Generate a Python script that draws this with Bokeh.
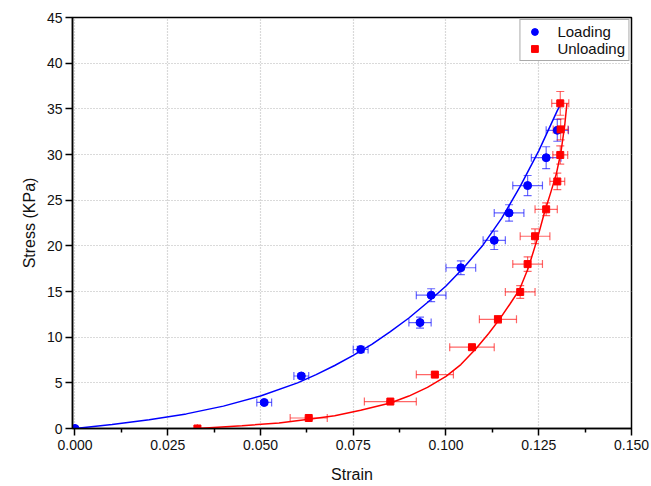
import numpy as np
from bokeh.plotting import figure
from bokeh.models import (ColumnDataSource, Whisker, TeeHead, FixedTicker,
                          NumeralTickFormatter, Range1d, Legend, LegendItem)
from bokeh.embed import file_html
from bokeh.resources import INLINE

# ---- data ----
load_strain = [0.000, 0.051, 0.061, 0.077, 0.093, 0.096, 0.104, 0.113, 0.117, 0.122, 0.127, 0.130]
load_stress = [0.0, 2.85, 5.75, 8.65, 11.6, 14.6, 17.6, 20.6, 23.6, 26.6, 29.65, 32.65]
load_xerr = [0.0, 0.002, 0.002, 0.002, 0.003, 0.004, 0.004, 0.003, 0.004, 0.004, 0.004, 0.003]
load_yerr = [0.0, 0.2, 0.25, 0.35, 0.6, 0.7, 0.75, 1.0, 0.9, 1.1, 1.2, 1.2]

unload_strain = [0.033, 0.063, 0.085, 0.097, 0.107, 0.114, 0.120, 0.122, 0.124, 0.127, 0.130, 0.1308, 0.1309, 0.1308]
unload_stress = [0.0, 1.15, 2.95, 5.9, 8.9, 11.95, 14.95, 18.0, 21.05, 24.0, 27.05, 29.95, 32.75, 35.6]
unload_xerr = [0.0, 0.005, 0.007, 0.005, 0.006, 0.005, 0.004, 0.004, 0.004, 0.003, 0.002, 0.002, 0.002, 0.0023]
unload_yerr = [0.0, 0.1, 0.1, 0.15, 0.25, 0.4, 0.7, 0.8, 0.8, 0.7, 0.9, 1.0, 1.15, 1.3]

# fitted curves, points
load_fit_x = [0.000, 0.010, 0.020, 0.030, 0.040, 0.050, 0.060, 0.065, 0.070, 0.075, 0.080, 0.085, 0.090, 0.095, 0.100, 0.105, 0.110, 0.115, 0.120, 0.125, 0.130, 0.131]
load_fit_y = [0.0, 0.45, 0.95, 1.6, 2.45, 3.55, 5.0, 5.9, 6.9, 8.0, 9.2, 10.6, 12.1, 13.8, 15.6, 17.7, 20.1, 23.0, 26.5, 30.4, 34.8, 35.6]

unload_fit_x = [0.033, 0.045, 0.055, 0.063, 0.070, 0.077, 0.085, 0.090, 0.095, 0.100, 0.104, 0.108, 0.1115, 0.1145, 0.1172, 0.1198, 0.1222, 0.1245, 0.1265, 0.1282, 0.1297, 0.131, 0.132, 0.1326]
unload_fit_y = [0.0, 0.3, 0.6, 1.0, 1.4, 2.0, 2.8, 3.55, 4.5, 5.7, 7.0, 8.7, 10.4, 12.0, 13.6, 15.2, 17.6, 20.6, 23.6, 25.8, 27.8, 30.3, 33.2, 35.6]

x_ticks = [0.000, 0.025, 0.050, 0.075, 0.100, 0.125, 0.150]
y_ticks = [0, 5, 10, 15, 20, 25, 30, 35, 40, 45]

BLUE = "#0000FF"
RED = "#FF0000"
FONT = "Liberation Sans"

p = figure(width=651, height=486, output_backend="svg", toolbar_location=None,
           x_range=Range1d(-0.00067, 0.150), y_range=Range1d(0, 45),
           min_border_left=72, min_border_right=20, min_border_top=17, min_border_bottom=58)
p.background_fill_color = "white"
p.border_fill_color = "white"
p.outline_line_color = "black"
p.outline_line_width = 1.5

# grid
for g in (p.xgrid, p.ygrid):
    g.grid_line_color = "#b4b4b4"
    g.grid_line_dash = "1 2"
    g.grid_line_width = 1.2
p.xgrid.ticker = FixedTicker(ticks=x_ticks)
p.ygrid.ticker = FixedTicker(ticks=y_ticks)

# axes
minor_x = [x_ticks[i] + 0.0125 for i in range(len(x_ticks) - 1)]
p.xaxis.ticker = FixedTicker(ticks=x_ticks, minor_ticks=minor_x)
p.yaxis.ticker = FixedTicker(ticks=y_ticks)
p.xaxis.formatter = NumeralTickFormatter(format="0.000")
p.xaxis.axis_label = "Strain"
p.yaxis.axis_label = "Stress (KPa)"
for ax in (p.xaxis, p.yaxis):
    ax.axis_line_color = "black"
    ax.axis_line_width = 1.5
    ax.major_tick_line_color = "black"
    ax.major_tick_line_width = 1.5
    ax.major_tick_out = 7
    ax.major_tick_in = 0
    ax.minor_tick_line_color = "black"
    ax.minor_tick_line_width = 1.5
    ax.minor_tick_out = 4
    ax.minor_tick_in = 0
    ax.major_label_text_font = FONT
    ax.major_label_text_font_size = "14px"
    ax.major_label_text_color = "#111111"
    ax.axis_label_text_font = FONT
    ax.axis_label_text_font_size = "16px"
    ax.axis_label_text_font_style = "normal"
    ax.axis_label_text_color = "#111111"
p.yaxis.minor_tick_line_color = None
p.xaxis.major_label_standoff = 4
p.yaxis.major_label_standoff = 3
p.xaxis.axis_label_standoff = 13
p.yaxis.axis_label_standoff = 6

# sources
ls = ColumnDataSource(dict(
    x=load_strain, y=load_stress,
    xl=np.array(load_strain) - np.array(load_xerr), xu=np.array(load_strain) + np.array(load_xerr),
    yl=np.array(load_stress) - np.array(load_yerr), yu=np.array(load_stress) + np.array(load_yerr)))
us = ColumnDataSource(dict(
    x=unload_strain, y=unload_stress,
    xl=np.array(unload_strain) - np.array(unload_xerr), xu=np.array(unload_strain) + np.array(unload_xerr),
    yl=np.array(unload_stress) - np.array(unload_yerr), yu=np.array(unload_stress) + np.array(unload_yerr)))

# fitted lines
p.line(load_fit_x, load_fit_y, line_color=BLUE, line_width=1.5)
p.line(unload_fit_x, unload_fit_y, line_color=RED, line_width=1.5)

# error bars
for src, col in ((ls, BLUE), (us, RED)):
    wy = Whisker(source=src, base="x", upper="yu", lower="yl", dimension="height",
                 line_color=col, line_alpha=0.6, line_width=1.2,
                 upper_head=TeeHead(size=8, line_color=col, line_alpha=0.6, line_width=1.2),
                 lower_head=TeeHead(size=8, line_color=col, line_alpha=0.6, line_width=1.2))
    wx = Whisker(source=src, base="y", upper="xu", lower="xl", dimension="width",
                 line_color=col, line_alpha=0.6, line_width=1.2,
                 upper_head=TeeHead(size=8, line_color=col, line_alpha=0.6, line_width=1.2),
                 lower_head=TeeHead(size=8, line_color=col, line_alpha=0.6, line_width=1.2))
    p.add_layout(wy)
    p.add_layout(wx)

r_load = p.scatter("x", "y", source=ls, marker="circle", size=8, fill_color=BLUE, line_color=BLUE)
r_unload = p.scatter("x", "y", source=us, marker="square", size=7, fill_color=RED, line_color=RED)

legend = Legend(items=[LegendItem(label="Loading", renderers=[r_load]),
                       LegendItem(label="Unloading", renderers=[r_unload])],
                location="top_right")
legend.label_text_font = FONT
legend.label_text_font_size = "15px"
legend.label_text_color = "#111111"
legend.border_line_color = "#555555"
legend.border_line_width = 1
legend.background_fill_alpha = 1.0
legend.margin = 2
legend.padding = 3
legend.spacing = 0
legend.glyph_height = 17
legend.glyph_width = 22
legend.label_height = 17
legend.label_standoff = 12
p.add_layout(legend)

open("out.html", "w").write(file_html(p, INLINE))
